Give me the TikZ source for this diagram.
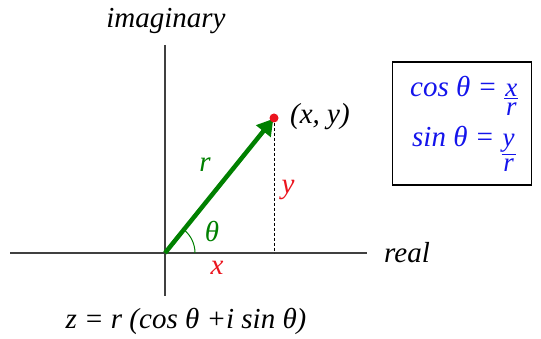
\documentclass[tikz,border=0pt]{standalone}
\usepackage{fontspec}
\setmainfont{Liberation Serif}
\newfontfamily\tms{Liberation Serif}
\usetikzlibrary{arrows.meta}
\definecolor{vgreen}{RGB}{0,128,0}
\definecolor{vred}{RGB}{235,20,30}
\definecolor{vblue}{RGB}{20,20,235}
\newcommand{\fr}[2]{{\fontsize{27}{16}\selectfont\vtop{\offinterlineskip\halign{\hfil\kern1pt##\kern1pt\hfil\cr#1\cr\noalign{\kern1.5pt\hrule height 1pt\kern3pt}#2\cr}}}}
\begin{document}
\begin{tikzpicture}[x=1pt,y=-1pt,
  lbl/.style={font=\tms\fontsize{29}{32}\selectfont\itshape, inner sep=0pt},
  axis/.style={line width=1.3pt, black!75}]
\useasboundingbox (0,0) rectangle (541,339);
\coordinate (O) at (165,253);
\coordinate (P) at (274,118);
\coordinate (ytop) at (165,45);
\coordinate (ybot) at (165,296);
\coordinate (xl) at (10,253);
\coordinate (xr) at (367,253);
\coordinate (Pfoot) at (274,253);
\draw[axis] (ytop) -- (ybot);
\draw[axis] (xl) -- (xr);
\draw[line width=1pt, dash pattern=on 3pt off 2pt] (P) -- (Pfoot);
\draw[vgreen, line width=4.5pt, -{Triangle[length=16pt,width=18pt]}, shorten >=1pt] (O) -- (P);
\draw[vgreen, line width=1pt] (195,253) arc[start angle=0, end angle=-51, radius=30];
\fill[vred] (P) circle (4.5pt);
\node[lbl] (im) at (166,21) {imaginary};
\node[lbl] (re) at (407,253) {real};
\node[lbl, anchor=west] (xy) at (290,117) {(x, y)};
\node[lbl, text=vgreen] (r) at (205,165) {r};
\node[lbl, text=vred] (y) at (288,190) {y};
\node[lbl, text=vgreen] (th) at (212,232) {θ};
\node[lbl, text=vred] (x) at (217,268) {x};
\node[draw, line width=1.5pt, minimum width=139pt, minimum height=123pt] (box) at (462,123.5) {};
\node[lbl, text=vblue, anchor=base west] (cos) at (410,97) {cos θ = \fr{x}{r}};
\node[lbl, text=vblue, anchor=base west] (sin) at (412,147) {sin θ = \fr{y}{r}};
\node[lbl] (z) at (186,321) {z = r (cos θ +i sin θ)};
\end{tikzpicture}
\end{document}
